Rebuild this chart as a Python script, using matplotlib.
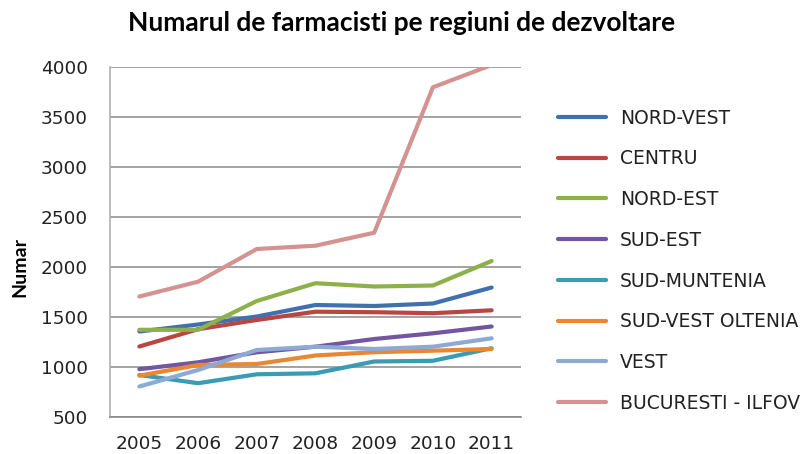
import matplotlib
matplotlib.use("Agg")
import matplotlib.pyplot as plt

years = ["2005", "2006", "2007", "2008", "2009", "2010", "2011"]
series_names = ["NORD-VEST", "CENTRU", "NORD-EST", "SUD-EST", "SUD-MUNTENIA",
                "SUD-VEST OLTENIA", "VEST", "BUCURESTI - ILFOV"]
nord_vest = [1355, 1425, 1505, 1620, 1610, 1635, 1795]
centru = [1205, 1378, 1470, 1553, 1548, 1538, 1567]
nord_est = [1372, 1372, 1660, 1838, 1805, 1815, 2060]
sud_est = [978, 1047, 1147, 1203, 1280, 1337, 1405]
sud_muntenia = [920, 838, 927, 937, 1055, 1062, 1188]
sud_vest_oltenia = [913, 1020, 1030, 1115, 1148, 1163, 1180]
vest = [805, 970, 1170, 1203, 1180, 1203, 1287]
bucuresti_ilfov = [1705, 1853, 2180, 2213, 2343, 3797, 4020]
yticks = [500, 1000, 1500, 2000, 2500, 3000, 3500, 4000]

data = [nord_vest, centru, nord_est, sud_est, sud_muntenia,
        sud_vest_oltenia, vest, bucuresti_ilfov]
colors = ["#4170B0", "#B84743", "#8DB04A", "#7256A0", "#3A9BB5",
          "#E98733", "#8FA9D5", "#D49391"]

plt.rcParams['font.family'] = ['DejaVu Sans']

fig = plt.figure(figsize=(8.04, 4.54), dpi=100)
ax = fig.add_axes([110/804, 1-417/454, 411/804, 350/454])

xs = [i + 0.5 for i in range(len(years))]
handles = []
for name, vals, c in zip(series_names, data, colors):
    h, = ax.plot(xs, vals, color=c, lw=3.0, solid_capstyle='round',
                 solid_joinstyle='round', label=name)
    handles.append(h)

ax.set_xlim(0, 7)
ax.set_ylim(500, 4000)
ax.set_yticks(yticks)
ax.set_xticks(xs)
ax.set_xticklabels(years)
ax.tick_params(axis='both', length=0, labelsize=13.3, colors='#222222')
ax.tick_params(axis='y', pad=16)
ax.tick_params(axis='x', pad=13)
ax.yaxis.grid(True, color='#8a8a8a', lw=1.1)
ax.set_axisbelow(True)
for s in ['top', 'right']:
    ax.spines[s].set_visible(False)
ax.spines['left'].set_color('#b0b0b0')
ax.spines['bottom'].set_color('#8a8a8a')
ax.spines['left'].set_linewidth(1.2)
ax.spines['bottom'].set_linewidth(1.2)

ylab = fig.text(20/804, 1-267/454, "Numar", rotation=90, ha='center',
                va='center', fontsize=14, fontweight='bold',
                family=['Lato', 'DejaVu Sans'])

fig.text(402/804, 1-23/454, "Numarul de farmacisti pe regiuni de dezvoltare",
         ha='center', va='center', fontsize=19, fontweight='bold',
         family=['Lato', 'DejaVu Sans'])

leg = fig.legend(handles=handles, loc='upper left',
                 bbox_to_anchor=(551/804, 1-101/454), frameon=False,
                 fontsize=13.5, handlelength=2.55, handletextpad=0.74,
                 labelspacing=1.16, borderaxespad=0)
for t in leg.get_texts():
    t.set_color('#222222')

fig.savefig("out.png", dpi=100)
